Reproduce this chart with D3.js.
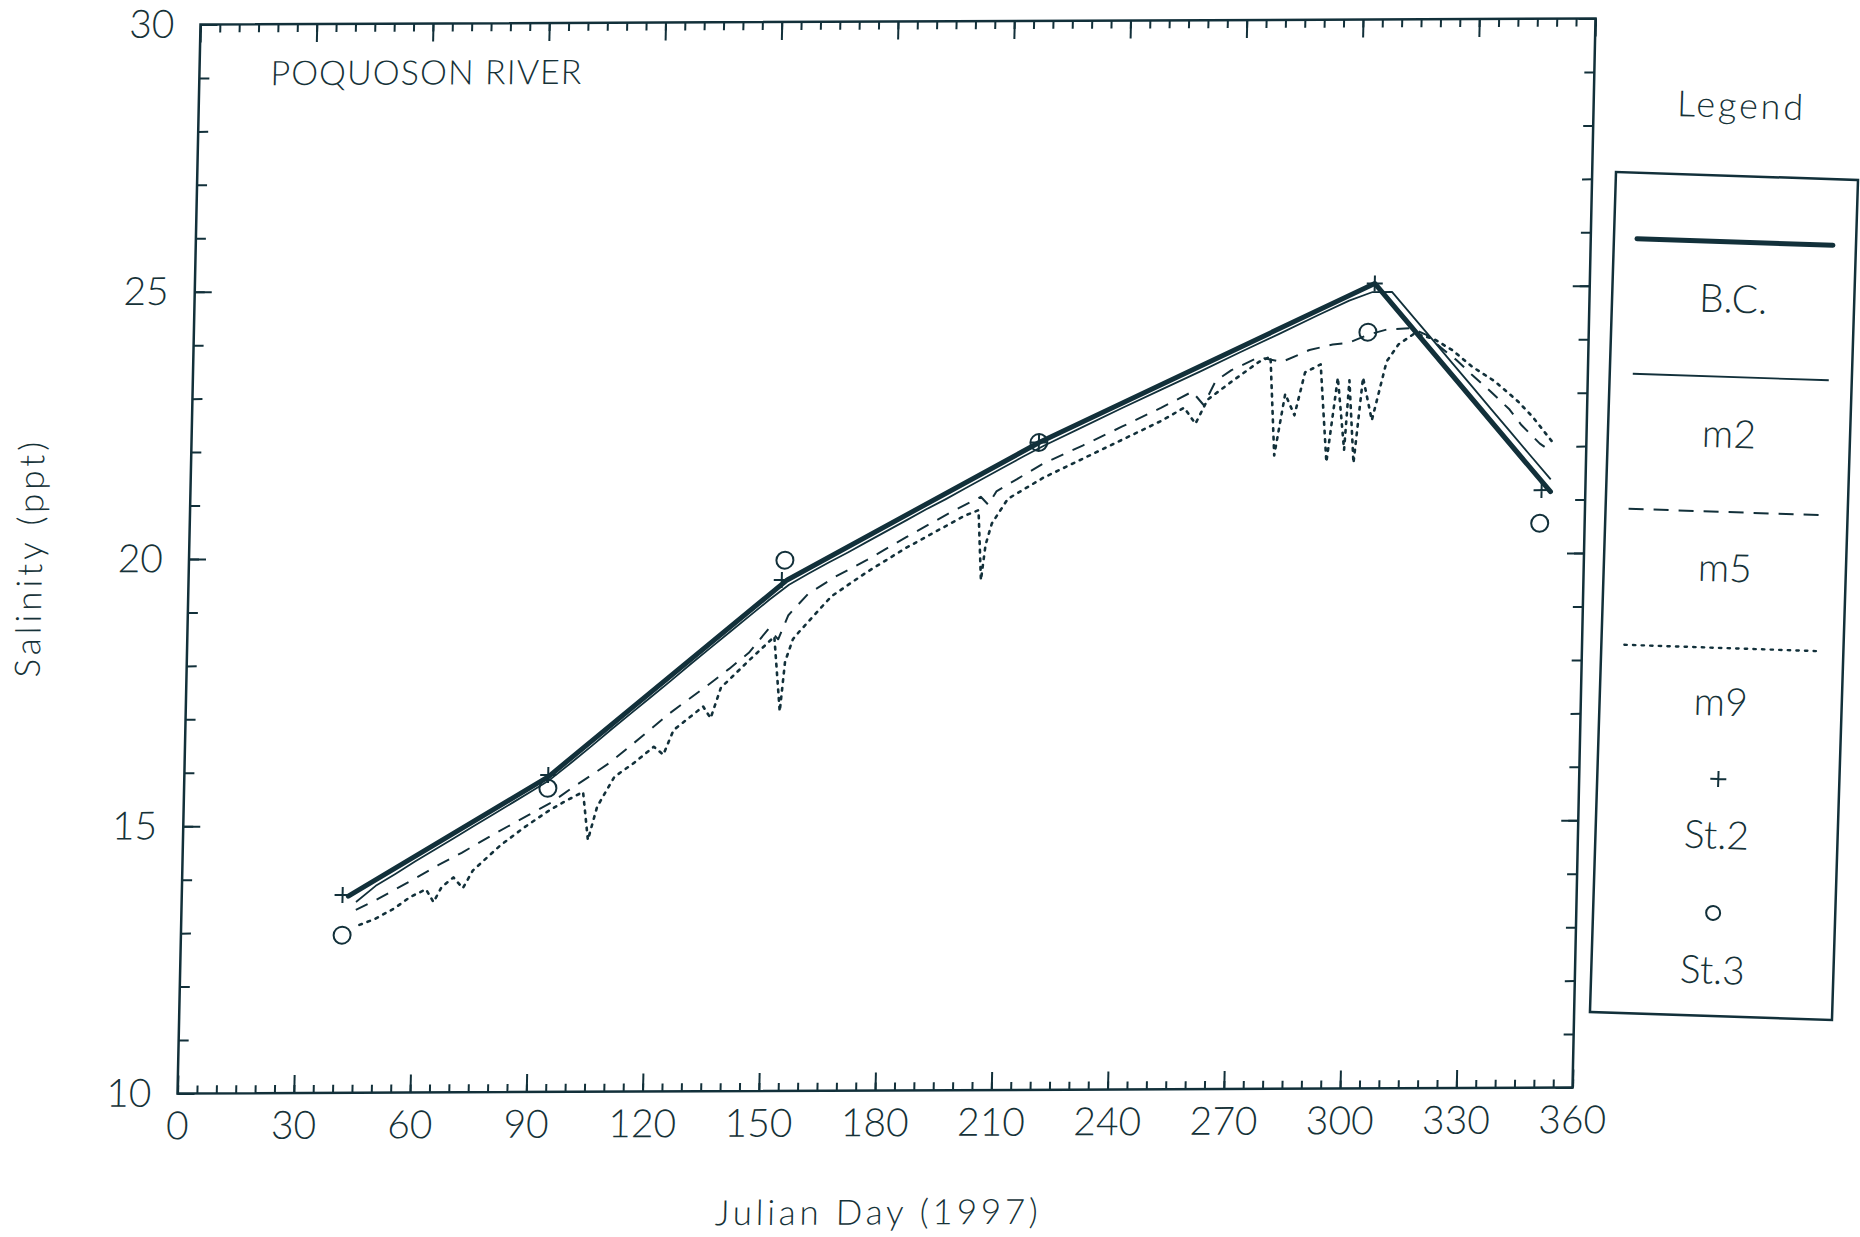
<!DOCTYPE html>
<html>
<head>
<meta charset="utf-8">
<script src="https://cdn.jsdelivr.net/npm/d3@7"></script>
<style>
  body { margin: 0; background: #fff; }
  svg { display: block; }
  text { font-family: Lato, 'Open Sans', sans-serif; font-weight: 300; fill: #163238; }
</style>
</head>
<body>
<svg id="chart" width="1860" height="1237"></svg>
<script>
// Julian day, salinity (ppt)
const bc = [[43, 13.68], [94, 15.9], [154.5, 19.56], [219, 22.12], [304.5, 25.06], [351, 21.15]];

const m2 = [[45, 13.57], [50, 13.87], [55, 14.09], [60, 14.32], [65, 14.54], [70, 14.76], [75, 14.98],
  [80, 15.2], [85, 15.42], [90, 15.64], [94, 15.82], [100, 16.17], [105, 16.47], [110, 16.78],
  [115, 17.08], [120, 17.38], [125, 17.68], [130, 17.99], [135, 18.29], [140, 18.59], [145, 18.89],
  [150, 19.19], [155, 19.47], [160, 19.68], [165, 19.88], [170, 20.07], [175, 20.27], [180, 20.47],
  [185, 20.67], [190, 20.87], [195, 21.06], [200, 21.26], [205, 21.46], [210, 21.66], [215, 21.86],
  [220, 22.05], [230, 22.4], [240, 22.75], [250, 23.09], [260, 23.43], [270, 23.78], [280, 24.12],
  [290, 24.47], [298, 24.74], [304, 24.9], [309, 24.9], [315, 24.4], [320, 23.98], [325, 23.56],
  [330, 23.14], [335, 22.72], [340, 22.3], [345, 21.88], [351, 21.38]];

const m5 = [[45, 13.42], [50, 13.6], [55, 13.8], [60, 14.0], [66, 14.25], [72, 14.48], [80, 14.82],
  [89, 15.18], [95, 15.42], [100, 15.68], [105, 15.92], [110, 16.17], [118, 16.65], [125, 17.08],
  [130, 17.35], [135, 17.62], [140, 17.9], [145, 18.2], [150, 18.65], [152.5, 18.45], [155, 18.9],
  [160, 19.3], [167, 19.62], [175, 19.93], [185, 20.35], [196, 20.8], [204, 21.1], [206, 20.95],
  [208, 21.2], [220, 21.72], [230, 22.05], [240, 22.4], [250, 22.75], [258, 23.05], [261, 22.8],
  [264, 23.25], [268, 23.45], [275, 23.69], [281, 23.6], [288, 23.82], [294, 23.92], [298, 23.95],
  [303, 24.1], [308, 24.2], [314, 24.22], [318, 24.1], [322, 23.85], [326, 23.62], [330, 23.35],
  [335, 23.03], [340, 22.69], [343, 22.41], [348, 22.05], [351, 21.9]];

const m9 = [[46, 13.14], [50, 13.25], [55, 13.45], [59, 13.66], [63, 13.8], [65, 13.56], [67, 13.84],
  [70, 14.02], [72.5, 13.82], [75, 14.15], [82, 14.62], [88, 14.95], [94, 15.25], [98, 15.42],
  [103, 15.61], [104.5, 14.71], [106.7, 15.33], [111, 15.89], [116, 16.15], [121, 16.45],
  [123.5, 16.3], [126, 16.76], [131, 17.05], [133.5, 17.2], [135.5, 16.98], [138, 17.55],
  [145, 18.05], [151.5, 18.5], [153.3, 17.1], [154.4, 18.03], [156.3, 18.45], [158, 18.6],
  [166, 19.25], [175, 19.7], [185, 20.15], [195, 20.55], [200, 20.75], [203.5, 20.85],
  [204.5, 19.54], [205.5, 20.2], [207, 20.6], [211, 21.06], [220, 21.45], [230, 21.8], [240, 22.15],
  [250, 22.5], [256, 22.75], [259, 22.45], [262, 22.9], [268, 23.23], [275, 23.6], [278, 23.7],
  [279.5, 21.85], [282, 23.0], [284.5, 22.6], [287, 23.4], [291, 23.55], [293, 21.72],
  [295.5, 23.3], [297.5, 21.95], [298.5, 23.25], [300, 21.7], [302, 23.3], [304.5, 22.5],
  [308, 23.6], [311, 23.92], [315, 24.12], [320, 24.02], [325, 23.8], [330, 23.5], [336, 23.22],
  [342, 22.85], [346, 22.55], [351, 22.1]];

const st2 = [[41.5, 13.7], [93.9, 15.93], [153.1, 19.56], [218.7, 22.11], [304.5, 25.06], [348.7, 21.18]];
const st3 = [[41.6, 12.95], [93.9, 15.68], [153.8, 19.93], [218.7, 22.11], [303, 24.15], [348.4, 20.56]];

const xTicks = [0, 30, 60, 90, 120, 150, 180, 210, 240, 270, 300, 330, 360];
const yTicks = [10, 15, 20, 25, 30];
const legendItems = ['B.C.', 'm2', 'm5', 'm9', 'St.2', 'St.3'];

// Style values
const ink = '#12303a';
const W = 1395, H = 1069;

const svg = d3.select('#chart');
svg.append('rect').attr('width', 1860).attr('height', 1237).attr('fill', '#fff');

// the scanned plot is a little skewed, so the whole chart sits in a sheared group
const g = svg.append('g').attr('transform', 'matrix(1,-0.0043,-0.0215,1,200.5,24.5)');

const x = d3.scaleLinear().domain([0, 360]).range([0, W]);
const y = d3.scaleLinear().domain([10, 30]).range([H, 0]);

function styleAxis(sel) {
  sel.select('.domain').remove();
  sel.selectAll('.tick line').attr('stroke', ink).attr('stroke-width', 2);
  sel.selectAll('.tick text').attr('font-size', 39).attr('fill', '#163238')
    .attr('font-family', null);
}

// axes, all ticks pointing inward
g.append('g').attr('transform', `translate(0,${H})`)
  .call(d3.axisBottom(x).tickValues(d3.range(0, 361, 5)).tickSize(-8).tickFormat(''))
  .call(styleAxis);
g.append('g').attr('transform', `translate(0,${H})`)
  .call(d3.axisBottom(x).tickValues(xTicks).tickSize(-18).tickPadding(18).tickFormat(d3.format('d')))
  .call(styleAxis);
g.append('g')
  .call(d3.axisTop(x).tickValues(d3.range(0, 361, 5)).tickSize(-8).tickFormat(''))
  .call(styleAxis);
g.append('g')
  .call(d3.axisTop(x).tickValues(xTicks).tickSize(-18).tickFormat(''))
  .call(styleAxis);
g.append('g')
  .call(d3.axisLeft(y).tickValues(d3.range(10, 31, 1)).tickSize(-10).tickFormat(''))
  .call(styleAxis);
g.append('g')
  .call(d3.axisLeft(y).tickValues(yTicks).tickSize(-17).tickPadding(26).tickFormat(d3.format('d')))
  .call(styleAxis);
g.append('g').attr('transform', `translate(${W},0)`)
  .call(d3.axisRight(y).tickValues(d3.range(10, 31, 1)).tickSize(-10).tickFormat(''))
  .call(styleAxis);
g.append('g').attr('transform', `translate(${W},0)`)
  .call(d3.axisRight(y).tickValues(yTicks).tickSize(-17).tickFormat(''))
  .call(styleAxis);

g.append('rect')
  .attr('width', W).attr('height', H)
  .attr('fill', 'none').attr('stroke', ink).attr('stroke-width', 2.5);

// titles
g.append('text').attr('x', 71).attr('y', 61)
  .attr('font-size', 34).attr('textLength', 311).attr('lengthAdjust', 'spacing')
  .text('POQUOSON RIVER');
g.append('text').attr('x', W / 2 + 4).attr('y', 1203).attr('text-anchor', 'middle')
  .attr('font-size', 35).attr('textLength', 323).attr('lengthAdjust', 'spacing')
  .text('Julian Day (1997)');
g.append('text').attr('transform', `translate(-147,${H / 2}) rotate(-90)`)
  .attr('text-anchor', 'middle')
  .attr('font-size', 35).attr('textLength', 236).attr('lengthAdjust', 'spacing')
  .text('Salinity (ppt)');

// series
const line = d3.line().x((d) => x(d[0])).y((d) => y(d[1]));
const seriesStyle = [
  { data: m9, width: 2.6, dash: '2.6,6', cap: 'round' },
  { data: m5, width: 2, dash: '13,10', cap: 'butt' },
  { data: m2, width: 1.8, dash: null, cap: 'butt' },
  { data: bc, width: 5, dash: null, cap: 'round' },
];
seriesStyle.forEach((s) => {
  g.append('path')
    .datum(s.data)
    .attr('d', line)
    .attr('fill', 'none')
    .attr('stroke', ink)
    .attr('stroke-width', s.width)
    .attr('stroke-dasharray', s.dash)
    .attr('stroke-linecap', s.cap)
    .attr('stroke-linejoin', 'round');
});

// station observations
g.selectAll('.st2')
  .data(st2)
  .enter()
  .append('path')
  .attr('class', 'st2')
  .attr('transform', (d) => `translate(${x(d[0])},${y(d[1])})`)
  .attr('d', 'M-8,0H8M0,-8V8')
  .attr('stroke', ink)
  .attr('stroke-width', 2);
g.selectAll('.st3')
  .data(st3)
  .enter()
  .append('circle')
  .attr('class', 'st3')
  .attr('cx', (d) => x(d[0]))
  .attr('cy', (d) => y(d[1]))
  .attr('r', 8.5)
  .attr('fill', 'none')
  .attr('stroke', ink)
  .attr('stroke-width', 2);

// legend, with its own slight shear
const lg = svg.append('g').attr('transform', 'matrix(1,0.033,-0.031,1,1616,172)');
lg.append('text').attr('x', 122).attr('y', -58).attr('text-anchor', 'middle')
  .attr('font-size', 36).attr('textLength', 126).attr('lengthAdjust', 'spacing')
  .text('Legend');
lg.append('rect').attr('width', 242).attr('height', 840)
  .attr('fill', 'none').attr('stroke', ink).attr('stroke-width', 2.5);

const legendLines = [
  { v: 66, width: 5, dash: null, cap: 'round' },
  { v: 201, width: 1.8, dash: null, cap: 'butt' },
  { v: 336, width: 2, dash: '15,10', cap: 'butt' },
  { v: 472, width: 2.4, dash: '2.4,6.2', cap: 'round' },
];
legendLines.forEach((l) => {
  lg.append('line')
    .attr('x1', 23).attr('x2', 219).attr('y1', l.v).attr('y2', l.v)
    .attr('stroke', ink).attr('stroke-width', l.width)
    .attr('stroke-dasharray', l.dash).attr('stroke-linecap', l.cap);
});
const labelV = [123, 258, 392, 526, 659, 794];
legendItems.forEach((t, i) => {
  lg.append('text').attr('x', 121).attr('y', labelV[i]).attr('dy', '0.35em')
    .attr('text-anchor', 'middle').attr('font-size', 39).text(t);
});
lg.append('path').attr('transform', 'translate(121,603)').attr('d', 'M-8,0H8M0,-8V8')
  .attr('stroke', ink).attr('stroke-width', 2);
lg.append('circle').attr('cx', 120).attr('cy', 737).attr('r', 7)
  .attr('fill', 'none').attr('stroke', ink).attr('stroke-width', 2);
</script>
</body>
</html>
